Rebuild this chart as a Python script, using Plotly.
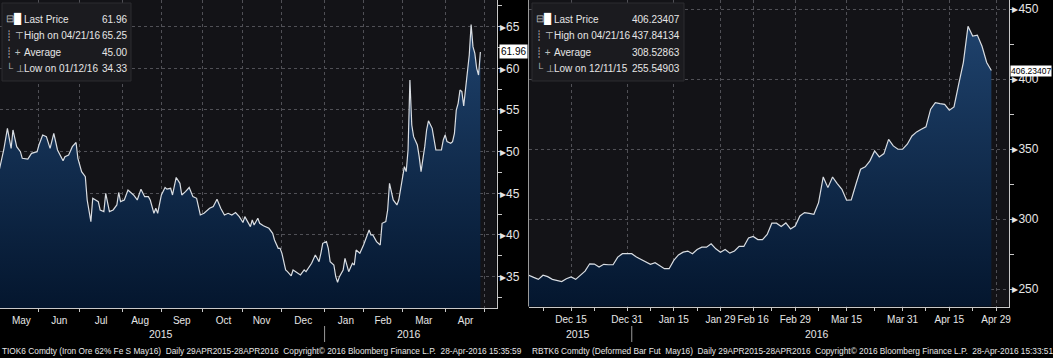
import plotly.graph_objects as go

# ---------------- data: Iron Ore 62% Fe (TIOK6) ----------------
iron_dates = [
    "2015-04-29", "2015-04-30", "2015-05-01", "2015-05-05", "2015-05-07", "2015-05-11", "2015-05-12",
    "2015-05-14", "2015-05-18", "2015-05-19", "2015-05-22", "2015-05-26", "2015-05-29", "2015-06-01",
    "2015-06-03", "2015-06-05", "2015-06-09", "2015-06-11", "2015-06-15", "2015-06-18", "2015-06-19",
    "2015-06-23", "2015-06-25", "2015-06-29", "2015-06-30", "2015-07-02", "2015-07-06", "2015-07-07",
    "2015-07-09", "2015-07-10", "2015-07-15", "2015-07-16", "2015-07-20", "2015-07-21", "2015-07-23",
    "2015-07-27", "2015-07-29", "2015-07-30", "2015-07-31", "2015-08-04", "2015-08-06", "2015-08-11",
    "2015-08-13", "2015-08-17", "2015-08-19", "2015-08-21", "2015-08-24", "2015-08-26", "2015-08-27",
    "2015-08-28", "2015-09-01", "2015-09-03", "2015-09-04", "2015-09-08", "2015-09-09", "2015-09-11",
    "2015-09-15", "2015-09-16", "2015-09-18", "2015-09-22", "2015-09-24", "2015-09-28", "2015-09-30",
    "2015-10-02", "2015-10-07", "2015-10-09", "2015-10-13", "2015-10-15", "2015-10-19", "2015-10-21",
    "2015-10-23", "2015-10-27", "2015-10-29", "2015-11-02", "2015-11-03", "2015-11-06", "2015-11-09",
    "2015-11-10", "2015-11-12", "2015-11-13", "2015-11-17", "2015-11-20", "2015-11-24", "2015-11-25",
    "2015-11-27", "2015-11-30", "2015-12-01", "2015-12-03", "2015-12-04", "2015-12-07", "2015-12-08",
    "2015-12-09", "2015-12-11", "2015-12-15", "2015-12-17", "2015-12-18", "2015-12-23", "2015-12-25",
    "2015-12-28", "2015-12-29", "2015-12-30", "2015-12-31", "2016-01-04", "2016-01-05", "2016-01-06",
    "2016-01-08", "2016-01-11", "2016-01-12", "2016-01-13", "2016-01-15", "2016-01-18", "2016-01-19",
    "2016-01-20", "2016-01-22", "2016-01-25", "2016-01-26", "2016-01-28", "2016-02-01", "2016-02-02",
    "2016-02-04", "2016-02-05", "2016-02-08", "2016-02-10", "2016-02-12", "2016-02-15", "2016-02-17",
    "2016-02-18", "2016-02-19", "2016-02-23", "2016-02-25", "2016-02-26", "2016-02-29", "2016-03-02",
    "2016-03-03", "2016-03-04", "2016-03-07", "2016-03-08", "2016-03-09", "2016-03-11", "2016-03-14",
    "2016-03-15", "2016-03-17", "2016-03-18", "2016-03-21", "2016-03-23", "2016-03-25", "2016-03-29",
    "2016-03-30", "2016-03-31", "2016-04-01", "2016-04-04", "2016-04-06", "2016-04-07", "2016-04-08",
    "2016-04-11", "2016-04-12", "2016-04-13", "2016-04-14", "2016-04-15", "2016-04-18", "2016-04-19",
    "2016-04-20", "2016-04-21", "2016-04-22", "2016-04-25", "2016-04-26", "2016-04-27", "2016-04-28",
]
iron_values = [
    46.8, 47.2, 48.2, 50.2, 52.8, 50.4, 52.6,
    50.6, 50.0, 49.2, 49.1, 49.8, 50.0, 50.8,
    52.0, 51.8, 50.4, 52.2, 50.2, 48.9, 49.4,
    49.6, 50.6, 51.1, 49.2, 47.6, 47.0, 44.2,
    41.6, 44.4, 44.0, 43.0, 42.8, 45.0, 42.8,
    43.0, 43.6, 45.1, 44.0, 44.2, 45.4, 44.8,
    44.2, 45.5, 44.6, 44.6, 44.2, 42.6, 43.2,
    42.6, 44.8, 45.7, 45.5, 45.6, 44.8, 46.9,
    46.2, 44.8, 45.2, 45.7, 44.6, 44.4, 42.4,
    42.6, 43.2, 43.4, 44.3, 43.2, 42.4, 42.6,
    42.4, 42.7, 42.2, 41.5, 42.2, 41.0, 41.8,
    41.2, 42.0, 41.4, 41.1, 40.8, 40.2, 39.4,
    38.4, 38.4, 37.8, 35.8, 35.6, 35.4, 35.1,
    35.8, 35.5, 35.2, 35.8, 35.6, 36.6, 37.6,
    37.2, 36.8, 37.8, 39.0, 39.2, 38.4, 36.8,
    36.4, 35.0, 34.33, 35.0, 35.8, 37.2, 36.2,
    35.6, 36.6, 36.4, 38.2, 37.8, 38.8, 39.4,
    40.6, 40.0, 40.0, 39.2, 38.8, 41.4, 41.6,
    43.0, 46.2, 44.2, 43.6, 44.2, 45.6, 48.2,
    47.6, 50.2, 58.6, 53.2, 51.8, 50.8, 49.4,
    47.6, 50.6, 52.6, 53.7, 52.8, 50.2, 50.2,
    50.2, 51.4, 52.0, 51.2, 51.0, 51.2, 52.2,
    55.0, 55.8, 57.4, 57.2, 55.5, 57.4, 59.4,
    61.6, 65.25, 62.6, 61.8, 60.0, 59.2, 61.96,
]

# ---------------- data: Deformed Bar (RBTK6) ----------------
rebar_dates = [
    "2015-12-01", "2015-12-02", "2015-12-03", "2015-12-04", "2015-12-07", "2015-12-08", "2015-12-09",
    "2015-12-10", "2015-12-11", "2015-12-14", "2015-12-15", "2015-12-16", "2015-12-17", "2015-12-18",
    "2015-12-21", "2015-12-22", "2015-12-23", "2015-12-24", "2015-12-25", "2015-12-28", "2015-12-29",
    "2015-12-30", "2015-12-31", "2016-01-04", "2016-01-05", "2016-01-06", "2016-01-07", "2016-01-08",
    "2016-01-11", "2016-01-12", "2016-01-13", "2016-01-14", "2016-01-15", "2016-01-18", "2016-01-19",
    "2016-01-20", "2016-01-21", "2016-01-22", "2016-01-25", "2016-01-26", "2016-01-27", "2016-01-28",
    "2016-01-29", "2016-02-01", "2016-02-02", "2016-02-03", "2016-02-04", "2016-02-05", "2016-02-15",
    "2016-02-16", "2016-02-17", "2016-02-18", "2016-02-19", "2016-02-22", "2016-02-23", "2016-02-24",
    "2016-02-25", "2016-02-26", "2016-02-29", "2016-03-01", "2016-03-02", "2016-03-03", "2016-03-04",
    "2016-03-07", "2016-03-08", "2016-03-09", "2016-03-10", "2016-03-11", "2016-03-14", "2016-03-15",
    "2016-03-16", "2016-03-17", "2016-03-18", "2016-03-21", "2016-03-22", "2016-03-23", "2016-03-24",
    "2016-03-25", "2016-03-28", "2016-03-29", "2016-03-30", "2016-03-31", "2016-04-01", "2016-04-05",
    "2016-04-06", "2016-04-07", "2016-04-08", "2016-04-11", "2016-04-12", "2016-04-13", "2016-04-14",
    "2016-04-15", "2016-04-18", "2016-04-19", "2016-04-20", "2016-04-21", "2016-04-22", "2016-04-25",
    "2016-04-26", "2016-04-27", "2016-04-28",
]
rebar_values = [
    259.5, 260.0, 258.5, 257.1, 260.0, 259.0, 257.1,
    256.5, 255.55, 257.5, 258.8, 257.1, 260.0, 263.0,
    268.2, 268.0, 265.9, 267.8, 267.5, 267.5, 273.0,
    275.4, 275.4, 275.4, 273.0, 271.1, 269.5, 267.8,
    269.0, 266.6, 264.7, 264.7, 270.6, 274.5, 276.5,
    277.3, 275.4, 278.4, 280.1, 280.1, 282.5, 278.9,
    276.5, 278.4, 275.8, 277.3, 280.6, 280.6, 286.7,
    287.7, 285.5, 285.5, 289.1, 297.2, 297.2, 294.8,
    297.4, 293.1, 295.2, 302.4, 304.8, 304.2, 303.6,
    311.9, 330.2, 322.6, 330.2, 325.5, 321.4, 313.6,
    313.8, 325.0, 335.7, 337.4, 341.7, 348.8, 344.5,
    346.9, 357.1, 352.4, 350.0, 350.0, 353.6, 359.5,
    362.4, 364.3, 366.0, 378.6, 383.3, 382.6, 382.1,
    377.9, 380.2, 396.4, 411.9, 437.84, 430.8, 431.5,
    423.6, 412.0, 406.23407,
]

# ---------------- axis / legend texts ----------------
iron_yticks = [35, 40, 45, 50, 55, 60, 65]
rebar_yticks = [250, 300, 350, 400, 450]
rebar_xticks = ["2015-12-15", "2015-12-31", "2016-01-15", "2016-01-29", "2016-02-16",
                "2016-02-29", "2016-03-15", "2016-03-31", "2016-04-15", "2016-04-29"]
rebar_xminor = ["2015-12-07", "2015-12-22", "2016-01-08", "2016-01-22", "2016-02-22",
                "2016-03-07", "2016-03-23", "2016-04-08", "2016-04-22"]
rebar_holidays = ["2016-01-01", "2016-02-08", "2016-02-09", "2016-02-10", "2016-02-11",
                  "2016-02-12", "2016-04-04", "2016-05-02"]

iron_legend_labels = ["Last Price", "High on 04/21/16", "Average", "Low on 01/12/16"]
iron_legend_values = ["61.96", "65.25", "45.00", "34.33"]
rebar_legend_labels = ["Last Price", "High on 04/21/16", "Average", "Low on 12/11/15"]
rebar_legend_values = ["406.23407", "437.84134", "308.52863", "255.54903"]
legend_marks = ["⊟<span style='color:#ffffff'>█</span>", "┊ ⊤", "┊ +", "└ ⊥"]

iron_footer = ("TIOK6 Comdty (Iron Ore 62% Fe S May16)  Daily 29APR2015-28APR2016  "
               "Copyright© 2016 Bloomberg Finance L.P.  28-Apr-2016 15:35:59")
rebar_footer = ("RBTK6 Comdty (Deformed Bar Fut  May16)  Daily 29APR2015-28APR2016  "
                "Copyright© 2016 Bloomberg Finance L.P.  28-Apr-2016 15:33:51")

# ---------------- style ----------------
W, H = 1053, 358
FONT = "Liberation Sans, Arial, sans-serif"
TXT = "#e6e6e6"
GRID = "#505056"
AXIS = "#c8c8c8"
PLOT_BG = "#131317"
FILL_LOW, FILL_HIGH = "#04162e", "#214672"
LINE = "#d9dde2"

iron_yrange = [31.2, 68.2]
rebar_yrange = [237.7, 456.6]


def px(x):
    return x / W


def py(y):
    return 1 - y / H


fig = go.Figure()

fig.add_trace(go.Scatter(
    x=iron_dates, y=iron_values, mode="lines", xaxis="x", yaxis="y",
    line=dict(color=LINE, width=1.2), fill="tozeroy",
    fillgradient=dict(type="vertical", colorscale=[[0, FILL_LOW], [1, FILL_HIGH]],
                      start=iron_yrange[0], stop=iron_yrange[1]),
    showlegend=False, hoverinfo="skip"))

fig.add_trace(go.Scatter(
    x=rebar_dates, y=rebar_values, mode="lines", xaxis="x2", yaxis="y2",
    line=dict(color=LINE, width=1.2), fill="tozeroy",
    fillgradient=dict(type="vertical", colorscale=[[0, FILL_LOW], [1, FILL_HIGH]],
                      start=rebar_yrange[0], stop=rebar_yrange[1]),
    showlegend=False, hoverinfo="skip"))

xcommon = dict(type="date", showline=True, linecolor=AXIS, linewidth=1,
               ticks="outside", ticklen=3, tickcolor=AXIS, tickangle=0, automargin=False,
               tickfont=dict(family=FONT, size=10, color=TXT),
               showgrid=True, gridcolor=GRID, griddash="dot", gridwidth=1,
               zeroline=False, fixedrange=True)
ycommon = dict(side="right", showline=True, linecolor=AXIS, linewidth=1, automargin=False,
               ticks="", tickangle=0, tickfont=dict(family=FONT, size=12, color=TXT),
               showgrid=True, gridcolor=GRID, griddash="dot", gridwidth=1,
               zeroline=False, fixedrange=True)

fig.update_layout(
    width=W, height=H, margin=dict(l=0, r=0, t=0, b=0, autoexpand=False),
    paper_bgcolor="#000000", plot_bgcolor=PLOT_BG,
    xaxis=dict(xcommon, domain=[0, px(496.7)], anchor="y",
               range=["2015-05-01", "2016-05-10 19:00"],
               rangebreaks=[dict(bounds=["sat", "mon"])],
               tick0="2015-05-01", dtick="M1", tickformat="%b", ticklabelmode="period"),
    yaxis=dict(ycommon, domain=[py(308.3), 1], anchor="x", range=iron_yrange,
               tickmode="array", tickvals=iron_yticks,
               ticktext=["▸" + str(v) for v in iron_yticks],
               minor=dict(ticks="outside", ticklen=4, tickcolor=AXIS, dtick=2.5, tick0=0,
                          showgrid=False)),
    xaxis2=dict(xcommon, domain=[px(529), px(1009)], anchor="y2",
                range=["2015-12-02", "2016-05-04 18:40"],
                rangebreaks=[dict(bounds=["sat", "mon"]), dict(values=rebar_holidays)],
                tickmode="array", tickvals=rebar_xticks, tickformat="%b %d",
                minor=dict(tickmode="array", tickvals=rebar_xminor, ticks="outside",
                           ticklen=3, tickcolor=AXIS, showgrid=False)),
    yaxis2=dict(ycommon, domain=[py(306.5), 1], anchor="x2", range=rebar_yrange,
                tickmode="array", tickvals=rebar_yticks,
                ticktext=["▸" + str(v) for v in rebar_yticks],
                minor=dict(ticks="outside", ticklen=4, tickcolor=AXIS, dtick=25, tick0=0,
                           showgrid=False)),
)

shapes = []
annotations = []

# panel border of the right chart
shapes.append(dict(type="line", xref="paper", yref="paper", x0=px(528.5), x1=px(528.5),
                   y0=py(306.5), y1=1, line=dict(color="#9a9a9a", width=1)))

# year separators at the year boundary
for xr in ("x", "x2"):
    shapes.append(dict(type="line", xref=xr, yref="paper", x0="2016-01-01", x1="2016-01-01",
                       y0=py(342), y1=py(326), line=dict(color="#9a9a9a", width=1)))

# year labels
for txt, xpix in (("2015", 161), ("2016", 409), ("2015", 578), ("2016", 817)):
    annotations.append(dict(text=txt, xref="paper", yref="paper", x=px(xpix), y=py(334),
                            showarrow=False, xanchor="center", yanchor="middle",
                            font=dict(family=FONT, size=10.5, color=TXT)))

# footers
for txt, xpix in ((iron_footer, 0), (rebar_footer, 530)):
    annotations.append(dict(text=txt, xref="paper", yref="paper", x=px(xpix), y=py(351),
                            showarrow=False, xanchor="left", yanchor="middle",
                            font=dict(family=FONT, size=8.3, color=TXT)))

# legend boxes, one annotation per text so line spacing matches
LEG_Y = [19.3, 35.7, 52.3, 68.3]


def legend_box(x0, x1, xlab, xval, labels, values):
    shapes.append(dict(type="rect", xref="paper", yref="paper",
                       x0=px(x0), x1=px(x1), y0=py(81), y1=py(3),
                       fillcolor="#1b1b1f", line=dict(color="#2c2c30", width=1)))
    for yy, mk, lab, val in zip(LEG_Y, legend_marks, labels, values):
        annotations.append(dict(text=mk, xref="paper", yref="paper", x=px(x0 + 2), y=py(yy),
                                showarrow=False, xanchor="left", yanchor="middle",
                                font=dict(family=FONT, size=10, color="#bdbdbd")))
        annotations.append(dict(text=lab, xref="paper", yref="paper", x=px(xlab), y=py(yy),
                                showarrow=False, xanchor="left", yanchor="middle",
                                font=dict(family=FONT, size=10, color=TXT)))
        annotations.append(dict(text=val, xref="paper", yref="paper", x=px(xval), y=py(yy),
                                showarrow=False, xanchor="right", yanchor="middle",
                                font=dict(family=FONT, size=10, color=TXT)))


legend_box(2, 131, 22, 129, iron_legend_labels, iron_legend_values)
legend_box(532, 684, 552, 682, rebar_legend_labels, rebar_legend_values)

# last price labels on the value axes
annotations.append(dict(text=iron_legend_values[0], xref="paper", yref="y", x=px(498.5),
                        y=iron_values[-1], showarrow=False, xanchor="left", yanchor="middle",
                        bgcolor="#ffffff", borderpad=1,
                        font=dict(family=FONT, size=10, color="#000000")))
annotations.append(dict(text=rebar_legend_values[0], xref="paper", yref="y2", x=px(1010),
                        y=rebar_values[-1], showarrow=False, xanchor="left", yanchor="middle",
                        bgcolor="#ffffff", borderpad=0,
                        font=dict(family=FONT, size=8.5, color="#000000")))

fig.update_layout(shapes=shapes, annotations=annotations)
fig.write_html("out.html", config={"displayModeBar": False},
               post_script="document.body.style.margin='0';document.body.style.padding='0';")
